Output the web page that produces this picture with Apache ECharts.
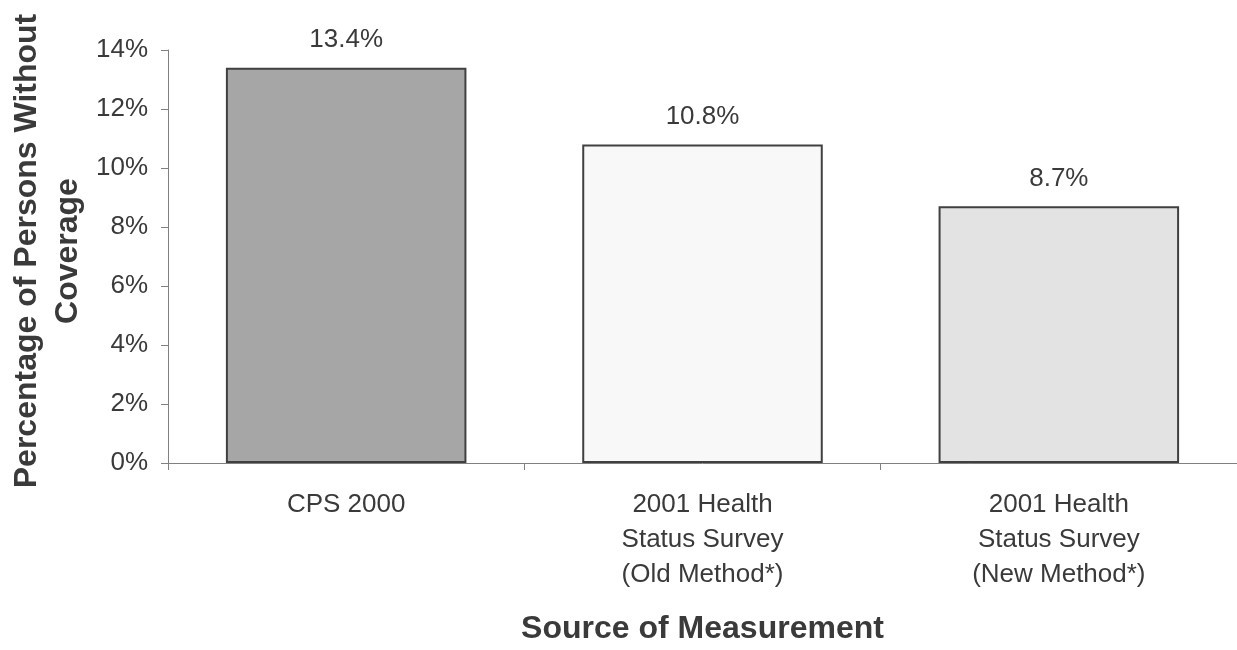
<!DOCTYPE html>
<html>
<head>
<meta charset="utf-8">
<script src="https://cdn.jsdelivr.net/npm/echarts@6/dist/echarts.min.js"></script>
<style>
  html, body { margin: 0; padding: 0; background: #fff; }
  #chart { width: 1237px; height: 650px; }
</style>
</head>
<body>
<div id="chart"></div>
<script>
// categories and values (percent without coverage)
var sources = [
  'CPS 2000',
  '2001 Health\nStatus Survey\n(Old Method*)',
  '2001 Health\nStatus Survey\n(New Method*)'
]
var uninsured = [13.4, 10.8, 8.7]
var barColors = ['#a6a6a6', '#f8f8f8', '#e3e3e3']

var textColor = '#3a3a3a'
var font = 'Liberation Sans, Arial, sans-serif'

var chart = echarts.init(document.getElementById('chart'))

var option = {
  animation: false,
  backgroundColor: '#fff',
  grid: { left: 168, top: 50, right: -8, bottom: 179 },
  xAxis: {
    type: 'category',
    data: sources,
    name: 'Source of Measurement',
    nameLocation: 'middle',
    nameGap: 150,
    nameTextStyle: {
      color: textColor,
      fontFamily: font,
      fontSize: 32,
      fontWeight: 'bold',
      verticalAlign: 'top'
    },
    axisLine: { lineStyle: { color: '#808080', width: 1 } },
    axisTick: { show: true, length: 7, lineStyle: { color: '#808080' } },
    axisLabel: {
      color: textColor,
      fontFamily: font,
      fontSize: 26,
      lineHeight: 35,
      margin: 24,
      interval: 0
    }
  },
  yAxis: {
    type: 'value',
    min: 0,
    max: 14,
    interval: 2,
    axisLine: { show: true, lineStyle: { color: '#808080', width: 1 } },
    axisTick: { show: true, length: 7, lineStyle: { color: '#808080' } },
    splitLine: { show: false },
    axisLabel: {
      color: textColor,
      fontFamily: font,
      fontSize: 26,
      margin: 20,
      formatter: '{value}%'
    }
  },
  graphic: [
    {
      type: 'text',
      x: 48,
      y: 251,
      rotation: Math.PI / 2,
      style: {
        text: 'Percentage of Persons Without\nCoverage',
        fill: textColor,
        font: 'bold 32px ' + font,
        lineHeight: 41,
        align: 'center',
        verticalAlign: 'middle'
      }
    }
  ],
  series: [
    {
      type: 'bar',
      barWidth: '67.5%',
      data: uninsured.map(function(v, i) {
        return { value: v, itemStyle: { color: barColors[i] } }
      }),
      itemStyle: { borderColor: '#404040', borderWidth: 2 },
      label: {
        show: true,
        position: 'top',
        distance: 15,
        color: textColor,
        fontFamily: font,
        fontSize: 26,
        formatter: function(p) { return p.value.toFixed(1) + '%' }
      }
    }
  ]
}
chart.setOption(option)
</script>
</body>
</html>
